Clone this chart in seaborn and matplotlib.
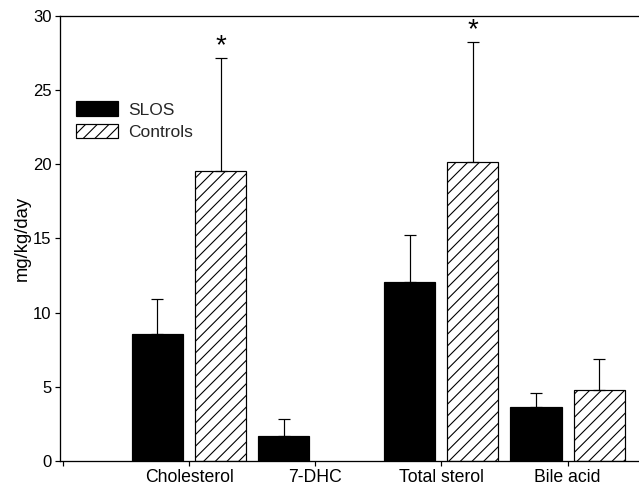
import matplotlib
matplotlib.use("Agg")
import matplotlib.pyplot as plt
import seaborn as sns
import pandas as pd
import numpy as np
from matplotlib.patches import Patch

categories = ["Cholesterol", "7-DHC", "Total sterol", "Bile acid"]
groups = ["SLOS", "Controls"]
slos_mean = [8.56, 1.71, 12.09, 3.62]
slos_err = [2.36, 1.12, 3.15, 0.99]
ctrl_mean = [19.53, 0.0, 20.18, 4.81]
ctrl_err = [7.62, 0.0, 8.09, 2.07]
significant = ["Cholesterol", "Total sterol"]

DPI = 140
S = 100.0 / DPI  # convert sizes designed for 100 dpi
PX = 72.0 / DPI  # one pixel in points

sns.set_theme(style="ticks")
plt.rcParams["font.family"] = ["Liberation Sans", "DejaVu Sans"]
plt.rcParams["hatch.linewidth"] = 1.1 * PX

df = pd.DataFrame({
    "category": categories * 2,
    "group": ["SLOS"] * 4 + ["Controls"] * 4,
    "value": slos_mean + ctrl_mean,
    "err": slos_err + ctrl_err,
})

fig = plt.figure(figsize=(639 / DPI, 489 / DPI), dpi=DPI)
ax = fig.add_axes([0.094, 0.0573, 0.906, 0.9100])

sns.barplot(data=df, x="category", y="value", hue="group", order=categories,
            hue_order=groups, palette={"SLOS": "black", "Controls": "white"},
            width=1.0, gap=0.19, edgecolor="black", linewidth=1.2 * PX,
            errorbar=None, legend=False, ax=ax)

n = len(categories)
patches = ax.patches[: 2 * n]
for i, p in enumerate(patches):
    g = groups[i // n]
    c = i % n
    if g == "Controls":
        p.set_hatch("////")
        p.set_facecolor("white")
        mean, err = ctrl_mean[c], ctrl_err[c]
    else:
        mean, err = slos_mean[c], slos_err[c]
    if mean <= 0:
        p.set_linewidth(0)
        continue
    xc = p.get_x() + p.get_width() / 2
    ax.errorbar([xc], [mean], yerr=[[0], [err]], fmt="none",
                ecolor="black", elinewidth=1.2 * PX, capsize=6.5 * PX,
                capthick=1.2 * PX)
    if g == "Controls" and categories[c] in significant:
        ax.text(xc, mean + err + 0.8, "*", ha="center", va="center",
                fontsize=20 * S, color="black")

ax.set_ylim(0, 30)
ax.set_xlim(-1.022, 3.566)
ax.set_yticks([0, 5, 10, 15, 20, 25, 30])
ax.set_xticks([-1, 0, 1, 2, 3])
ax.set_xticklabels([""] + categories)
ax.tick_params(axis="y", labelsize=12 * S, pad=2.5 * S)
ax.tick_params(axis="x", labelsize=12.7 * S, pad=2.5 * S)
ax.tick_params(axis="both", length=5 * PX, width=1.2 * PX, color="black",
               labelcolor="black", direction="out")
ax.set_xlabel("")
ax.set_ylabel("mg/kg/day", fontsize=13.3 * S, color="black", labelpad=1.5 * S)
for s in ["left", "bottom", "top"]:
    ax.spines[s].set_visible(True)
    ax.spines[s].set_color("black")
    ax.spines[s].set_linewidth(1.3 * PX)
ax.spines["right"].set_visible(False)

handles = [Patch(facecolor="black", edgecolor="black", linewidth=1.2 * PX, label="SLOS"),
           Patch(facecolor="white", edgecolor="black", linewidth=1.2 * PX,
                 hatch="////", label="Controls")]
ax.legend(handles=handles, loc="upper left", bbox_to_anchor=(0.028, 0.808),
          frameon=False, fontsize=12.5 * S, handlelength=2.4, handleheight=0.9,
          handletextpad=0.6, labelspacing=0.35, borderaxespad=0, borderpad=0)

fig.savefig("out.png", dpi=DPI)
